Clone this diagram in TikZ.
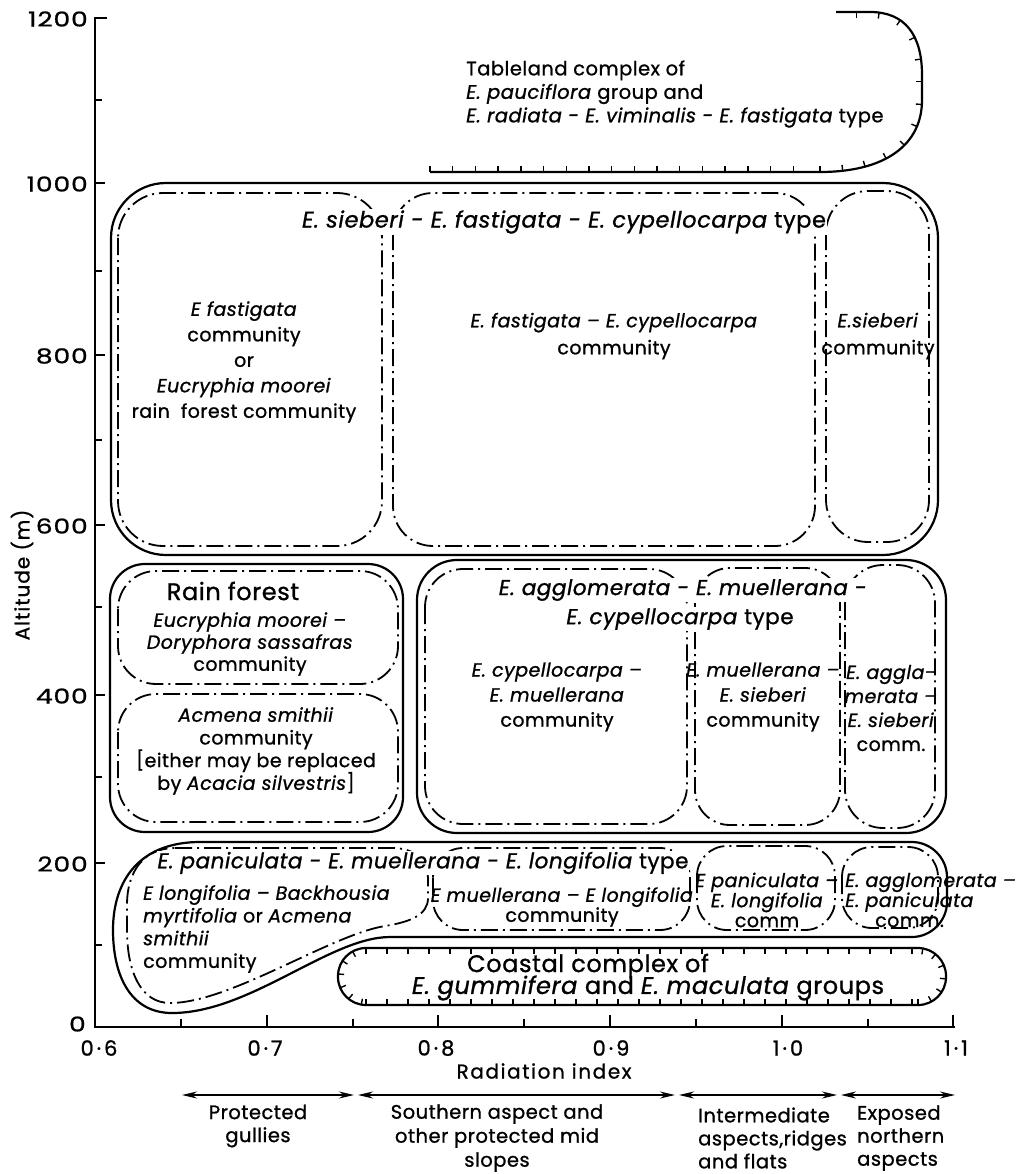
\documentclass[tikz,border=0pt]{standalone}
\usepackage{fontspec}
\setmainfont{Poppins}[LetterSpace=2.5, FakeBold=1]
\usetikzlibrary{decorations.markings,arrows.meta}
\tikzset{
  outer/.style={line width=2.2pt, line join=round},
  dd/.style={line width=1.8pt, dash pattern=on 17pt off 5pt on 2pt off 5pt},
  tk/.style={line width=1.4pt},
  hatchmarks/.style={postaction={decorate, decoration={markings,
     mark=between positions 0 and 1 step #1 with {\draw[tk] (0pt,0pt) -- (0pt,6pt);}}}},
  axisline/.style={line width=2pt},
  txt/.style={font=\fontsize{19}{24}\selectfont, inner sep=0pt, align=center},
  ttl/.style={font=\fontsize{21.5}{29}\selectfont, inner sep=1pt, fill=white},
  bigt/.style={font=\fontsize{24}{26}\selectfont, inner sep=0pt},
  axl/.style={font=\fontsize{21}{22}\selectfont\addfontfeatures{LetterSpace=14}, inner sep=0pt},
  ayl/.style={font=\fontsize{20.5}{22}\selectfont\addfontfeatures{FakeStretch=1.3, LetterSpace=4}, inner sep=0pt, anchor=east},
  arr/.style={line width=1.6pt, {Stealth[length=15pt,width=7pt]}-{Stealth[length=15pt,width=7pt]}}
}
\begin{document}
\begin{tikzpicture}[x=1pt,y=-1pt]
\useasboundingbox (0,0) rectangle (1020,1174);

% ---------- axes ----------
\draw[axisline] (107,18) -- (95,18) -- (95,1027) -- (955,1027);
\foreach \yy in {100,271,440,607,777,945} \draw[axisline] (95,\yy) -- (102,\yy);
\foreach \yy in {183,355,525,695,863} \draw[axisline] (95,\yy) -- (105,\yy);
\foreach \xx in {181,353,524,696,868} \draw[axisline] (\xx,1027) -- (\xx,1019);
\foreach \xx in {267,438,610,782,953} \draw[axisline] (\xx,1027) -- (\xx,1015);

\node[ayl] (y1200) at (88,19) {1200};
\node[ayl] (y1000) at (88,184) {1000};
\node[ayl] (y800) at (88,356) {800};
\node[ayl] (y600) at (88,526) {600};
\node[ayl] (y400) at (88,696) {400};
\node[ayl] (y200) at (88,864) {200};
\node[ayl] (y0) at (86,1024) {0};
\node[font=\fontsize{20}{22}\selectfont\addfontfeatures{LetterSpace=5}, inner sep=0pt, rotate=90] (ylab) at (22,575) {Altitude (m)};

\node[axl] (x06) at (99,1048) {0·6};
\node[axl] (x07) at (265,1048) {0·7};
\node[axl] (x08) at (436,1048) {0·8};
\node[axl] (x09) at (611,1048) {0·9};
\node[axl] (x10) at (788,1048) {1·0};
\node[axl] (x11) at (956,1048) {1·1};
\node[font=\fontsize{20}{22}\selectfont\addfontfeatures{LetterSpace=8}, inner sep=0pt] (xlab) at (544,1071) {Radiation index};

% ---------- tableland ----------
\draw[outer] (430,172) -- (820,172) .. controls (885,172) and (922,145) .. (922,100)
   -- (922,75) .. controls (922,35) and (905,12) .. (870,12) -- (836,12);
\foreach \k in {0,...,16} \draw[tk] ({430+22.7*\k},172) -- ++(0,-6);
\path[hatchmarks=22.7pt] (820,172) .. controls (885,172) and (922,145) .. (922,100)
   -- (922,75) .. controls (922,35) and (905,12) .. (870,12) -- (836,12);
\node[txt, anchor=west, align=left, font=\fontsize{19.5}{23.5}\selectfont] (tab) at (466,94)
  {Tableland complex of\\ \textit{E. pauciflora} group and\\ \textit{E. radiata - E. viminalis - E. fastigata} type};

% ---------- box A ----------
\draw[outer, rounded corners=55pt] (111,183) rectangle (938,555);
\draw[dd, rounded corners=45pt] (118,193) rectangle (382,546);
\draw[dd, rounded corners=40pt] (393,193) rectangle (815,546);
\draw[dd, rounded corners=42pt] (826,191) rectangle (929,542);
\node[ttl, font=\fontsize{22.5}{29}\selectfont] (ta) at (564,222) {\textit{E. sieberi - E. fastigata - E. cypellocarpa} type};
\node[txt, font=\fontsize{19}{25.5}\selectfont] (a1) at (244,362)
  {\textit{E fastigata}\\community\\or\\\textit{Eucryphia moorei}\\rain\ \ forest community};
\node[txt, font=\fontsize{19}{27}\selectfont] (a2) at (614,336) {\textit{E. fastigata – E. cypellocarpa}\\community};
\node[txt, font=\fontsize{19}{27}\selectfont] (a3) at (878,336) {\textit{E.sieberi}\\community};

% ---------- box B ----------
\draw[outer, rounded corners=35pt] (110,564) rectangle (403,832);
\draw[dd, rounded corners=38pt] (118,571) rectangle (398,684);
\draw[dd, rounded corners=38pt] (118,694) rectangle (398,822);
\node[bigt] (rf) at (233,591) {Rain forest};
\node[txt, font=\fontsize{19}{22}\selectfont] (b1) at (250,644)
  {\textit{Eucryphia moorei –}\\\textit{Doryphora sassafras}\\community};
\node[txt, font=\fontsize{19}{22.7}\selectfont] (b2) at (256,751)
  {\textit{Acmena smithii}\\community\\{[}either may be replaced\\by \textit{Acacia silvestris}{]}};

% ---------- box C ----------
\draw[outer, rounded corners=40pt] (417,560) rectangle (946,833);
\draw[dd, rounded corners=38pt] (425,569) rectangle (687,824);
\draw[dd, rounded corners=35pt] (695,568) rectangle (840,825);
\draw[dd, rounded corners=38pt] (845,565) rectangle (935,828);
\node[ttl] (tc1) at (683,590) {\textit{E. agglomerata - E. muellerana -}};
\node[ttl] (tc2) at (680,619) {\textit{E. cypellocarpa} type};
\node[txt, font=\fontsize{19}{25}\selectfont] (c1) at (557,697)
  {\textit{E. cypellocarpa –}\\\textit{E. muellerana}\\community};
\node[txt, font=\fontsize{19}{25}\selectfont] (c2) at (763,697)
  {\textit{E. muellerana –}\\\textit{E. sieberi}\\community};
\node[txt, font=\fontsize{19}{24}\selectfont] (c3) at (891,708)
  {\textit{E. aggla-}\\\textit{merata –}\\\textit{E. sieberi}\\comm.};

% ---------- box D ----------
\draw[outer] (200,842) -- (912,842) .. controls (931,842) and (947,858) .. (947,877) -- (947,902)
  .. controls (947,921) and (931,937) .. (912,937) -- (390,937)
  .. controls (330,937) and (250,1013) .. (172,1013)
  .. controls (130,1013) and (113,975) .. (113,930)
  .. controls (113,880) and (140,842) .. (200,842) -- cycle;
\draw[dd] (175,848) -- (392,848) .. controls (415,848) and (428,860) .. (428,880) -- (428,898)
  .. controls (428,915) and (410,922) .. (385,926)
  .. controls (330,935) and (230,1003) .. (170,1003)
  .. controls (140,1003) and (127,970) .. (127,930) -- (127,905)
  .. controls (127,870) and (145,848) .. (175,848) -- cycle;
\draw[dd, rounded corners=30pt] (433,848) rectangle (690,930);
\draw[dd, rounded corners=30pt] (697,846) rectangle (835,930);
\draw[dd, rounded corners=30pt] (842,847) rectangle (938,928);
\node[ttl] (td) at (423,863) {\textit{E. paniculata - E. muellerana - E. longifolia} type};
\node[txt, anchor=west, align=left, font=\fontsize{19}{22.7}\selectfont] (d1) at (143,929)
  {\textit{E longifolia – Backhousia}\\\textit{myrtifolia} or \textit{Acmena}\\\textit{smithii}\\community};
\node[txt, font=\fontsize{19}{20}\selectfont] (d2) at (562,907) {\textit{E muellerana – E longifolia}\\community};
\node[txt, font=\fontsize{19}{20}\selectfont] (d3) at (767,900) {\textit{E paniculata –}\\\textit{E. longifolia}\\comm};
\node[txt, anchor=west, align=left, font=\fontsize{19}{20}\selectfont] (d4) at (845,900)
  {\textit{E. agglomerata –}\\\textit{E. paniculata}\\\hspace*{30pt}comm.};

% ---------- coastal ----------
\draw[outer, rounded corners=28pt] (640,1005) -- (946,1005) -- (946,948) -- (338,948) -- (338,1005) -- cycle;
\foreach \xx in {366,387,...,918} {
  \draw[tk] (\xx,948) -- ++(0,6);
  \draw[tk] (\xx,1005) -- ++(0,-6);
}
\path[hatchmarks=14pt] (366,948) .. controls (350.5,948) and (338,960.5) .. (338,976)
   .. controls (338,991.5) and (350.5,1005) .. (366,1005);
\path[hatchmarks=14pt] (918,1005) .. controls (933.5,1005) and (946,992.5) .. (946,976)
   .. controls (946,960.5) and (933.5,948) .. (918,948);
\node[bigt] (e1) at (588,966) {Coastal complex of};
\node[bigt] (e2) at (648,988) {\textit{E. gummifera} and \textit{E. maculata} groups};

% ---------- aspect arrows ----------
\coordinate (p0) at (182,1095);
\coordinate (p1a) at (354,1095);
\coordinate (p1b) at (358,1095);
\coordinate (p2a) at (675,1095);
\coordinate (p2b) at (679,1095);
\coordinate (p3a) at (837,1095);
\coordinate (p3b) at (841,1095);
\coordinate (p4) at (955,1095);
\draw[arr] (p0) -- (p1a);
\draw[arr] (p1b) -- (p2a);
\draw[arr] (p2b) -- (p3a);
\draw[arr] (p3b) -- (p4);
\node[txt, font=\fontsize{19.5}{23}\selectfont] (g1) at (258,1126) {Protected\\gullies};
\node[txt, font=\fontsize{19.5}{24}\selectfont] (g2) at (497,1138) {Southern aspect and\\other protected mid\\slopes};
\node[txt, anchor=west, align=left, font=\fontsize{19.5}{23}\selectfont] (g3) at (698,1138) {Intermediate\\aspects,ridges\\and flats};
\node[txt, anchor=west, align=left, font=\fontsize{19.5}{23}\selectfont] (g4) at (857,1138) {Exposed\\northern\\aspects};
\end{tikzpicture}
\end{document}
